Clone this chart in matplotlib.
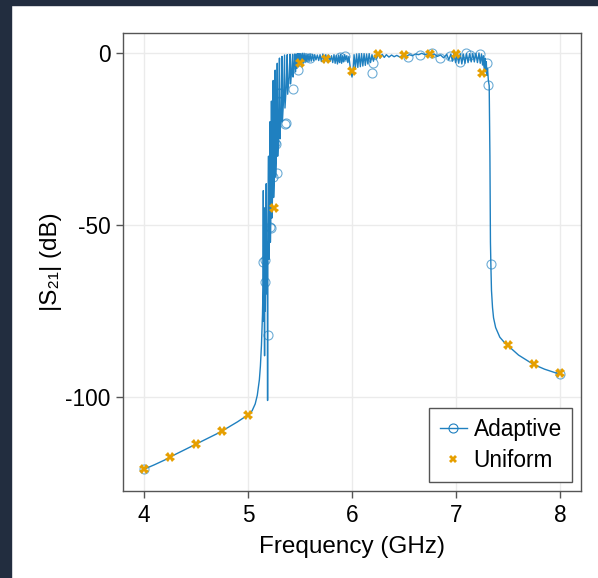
import matplotlib
matplotlib.use("Agg")
import matplotlib.pyplot as plt
from matplotlib.lines import Line2D
from matplotlib.patches import Rectangle

plt.rcParams['font.family'] = ['Liberation Sans', 'DejaVu Sans']
plt.rcParams['axes.unicode_minus'] = False

# ---- data ----
# dense evaluated response (adaptive model), segments
tail_low_f = [4.0, 4.1, 4.2, 4.3, 4.4, 4.5, 4.6, 4.7, 4.8, 4.9, 5.0, 5.04, 5.07, 5.09, 5.11, 5.12, 5.13, 5.14, 5.145]
tail_low_db = [-121.0, -119.7, -118.3, -116.7, -115.2, -113.7, -112.2, -110.7, -109.0, -107.2, -105.2, -104.0, -102.0, -99.5, -95.0, -91.0, -85.0, -76.0, -68.0]

edge_f = [5.148, 5.151, 5.156, 5.160, 5.163, 5.167, 5.172, 5.176, 5.180, 5.186,
          5.189, 5.192, 5.198, 5.202, 5.208, 5.212, 5.216, 5.222, 5.226, 5.230,
          5.238, 5.243, 5.247, 5.256, 5.262, 5.266, 5.275, 5.282, 5.286, 5.295,
          5.303, 5.307, 5.318, 5.327, 5.331, 5.342, 5.352, 5.356, 5.368, 5.378,
          5.382, 5.395, 5.405, 5.409, 5.420, 5.430, 5.434, 5.444, 5.450]
edge_db = [-40, -78, -62, -88, -45, -75, -60, -38, -70, -55,
           -101, -50, -30, -60, -50, -20, -55, -45, -14, -48,
           -40, -8, -42, -34, -5, -36, -28, -3, -30, -23,
           -1.5, -25, -18, -1, -20, -14, -0.6, -16, -10, -0.5,
           -12, -7, -0.4, -9, -5, -0.4, -7, -3.5, -0.3]

pass_f = [5.458, 5.464, 5.471, 5.478, 5.485, 5.492, 5.499, 5.507, 5.515, 5.523, 5.531, 5.540, 5.549,
          5.558, 5.567, 5.577, 5.587, 5.597, 5.608, 5.619, 5.630, 5.642, 5.654, 5.667, 5.680, 5.693,
          5.706, 5.720, 5.734, 5.748, 5.762, 5.776, 5.790, 5.803, 5.815, 5.827, 5.838, 5.849, 5.860,
          5.870, 5.880, 5.890, 5.900, 5.910, 5.920, 5.930, 5.940, 5.950, 5.960, 5.970, 5.980, 5.990,
          6.000, 6.010, 6.020, 6.032, 6.044, 6.056, 6.068, 6.080, 6.092, 6.104, 6.116, 6.128, 6.140,
          6.152, 6.165, 6.178, 6.192, 6.206, 6.220, 6.236, 6.252, 6.270, 6.290, 6.310, 6.330, 6.355,
          6.380, 6.405, 6.430, 6.460, 6.490, 6.520, 6.550, 6.580, 6.610, 6.640, 6.670, 6.700, 6.730,
          6.760, 6.790, 6.820, 6.850, 6.880, 6.910, 6.930, 6.950, 6.965, 6.980, 6.995, 7.010, 7.025,
          7.040, 7.055, 7.070, 7.085, 7.100, 7.115, 7.130, 7.145, 7.160, 7.175, 7.190, 7.205, 7.220,
          7.232, 7.244, 7.254, 7.262, 7.270, 7.277, 7.284, 7.290, 7.296, 7.302, 7.310, 7.318]
pass_db = [-5.5, -0.3, -4.5, -0.2, -4.0, -0.2, -3.5, -0.2, -3.2, -0.1, -3.0, -0.1, -2.8,
           -0.2, -2.6, -0.3, -2.5, -0.3, -2.4, -0.4, -2.2, -0.5, -2.0, -0.6, -2.2, -0.5,
           -2.5, -0.3, -2.8, -0.5, -2.6, -0.6, -2.4, -0.8, -2.8, -0.5, -3.0, -0.7, -3.2,
           -0.6, -2.8, -0.4, -3.0, -0.8, -2.6, -0.5, -2.0, -0.8, -2.8, -1.0, -3.5,
           -5.5, -7.0, -5.0, -0.5, -4.5, -0.3, -4.2, -0.2, -4.0, -0.2, -3.8, -0.2, -3.6,
           -0.3, -3.2, -0.2, -2.8, -0.5, -2.4, -0.6, -1.8, -0.2, -1.5, -0.4, -1.3, -0.5,
           -1.2, -0.6, -1.1, -0.7, -1.2, -0.6, -1.0, -0.5, -0.8, -0.3, -0.5, -0.1, -0.5,
           -0.2, -0.6, -0.3, -1.0, -0.6, -1.4, -0.4, -2.0, -0.3, -2.4, -0.2, -2.8, -0.3,
           -3.0, -0.2, -3.2, -0.3, -3.0, -0.2, -2.8, -0.2, -2.6, -0.1, -2.6, -0.1, -2.8,
           0.0, -3.0, -0.3, -3.5, -0.8, -4.5, -1.5, -5.5, -2.5, -6.5, -4.5, -8.0, -9.5]

tail_high_f = [7.325, 7.330, 7.334, 7.340, 7.350, 7.360, 7.380, 7.420, 7.460, 7.500, 7.600, 7.700, 7.750, 7.850, 7.950, 8.000]
tail_high_db = [-30.0, -55.0, -61.3, -69.0, -74.0, -77.0, -79.8, -82.6, -84.0, -85.1, -87.8, -89.7, -90.6, -91.9, -92.9, -93.3]

# adaptive sample points
adaptive_f = [4.0, 5.147, 5.163, 5.163, 5.196, 5.21, 5.22, 5.24, 5.26, 5.27, 5.28, 5.29, 5.31, 5.36, 5.37,
              5.43, 5.48, 5.6, 5.885, 5.93, 6.19, 6.2, 6.54, 6.65, 6.77, 6.85, 6.94, 7.04, 7.10, 7.13,
              7.23, 7.30, 7.31, 7.334, 8.0]
adaptive_db = [-121.0, -60.7, -60.2, -66.5, -82.0, -50.7, -50.8, -36.0, -26.2, -26.5, -34.8, -11.7, -11.7, -20.6, -20.4,
               -10.5, -4.9, -1.5, -1.1, -1.0, -5.9, -2.9, -1.3, -0.6, 0.0, -1.5, -1.0, -2.5, -0.1, -0.6,
               -0.3, -3.0, -9.3, -61.3, -93.3]

# uniform sample points
uniform_f = [4.0, 4.25, 4.5, 4.75, 5.0, 5.25, 5.5, 5.75, 6.0, 6.25, 6.5, 6.75, 7.0, 7.25, 7.5, 7.75, 8.0]
uniform_db = [-120.9, -117.4, -113.7, -109.9, -105.2, -45.0, -2.9, -1.7, -5.2, -0.3, -0.6, -0.3, -0.3, -5.8, -85.0, -90.4, -93.0]

xticks = [4, 5, 6, 7, 8]
yticks = [0, -50, -100]

# ---- plot ----
W, H = 598, 578
fig = plt.figure(figsize=(W / 100, H / 100), dpi=100)
fig.patch.set_facecolor('white')
dark = '#222d3f'
fig.patches.append(Rectangle((0, 0), 11 / W, 1, transform=fig.transFigure, color=dark, zorder=0))
fig.patches.append(Rectangle((0, 1 - 5 / H), 1, 5 / H, transform=fig.transFigure, color=dark, zorder=0))

ax = fig.add_axes([123 / W, 1 - 491 / H, (581 - 123) / W, (491 - 33) / H])

blue = '#1f80c0'
orange = '#E69F00'

line_f = tail_low_f + edge_f + pass_f + tail_high_f
line_db = tail_low_db + edge_db + pass_db + tail_high_db
ax.plot(line_f, line_db, color=blue, lw=1.0, zorder=3)
ax.plot(adaptive_f, adaptive_db, linestyle='none', marker='o', markersize=6.5,
        markerfacecolor='none', markeredgecolor=blue, markeredgewidth=0.8, alpha=0.65, zorder=4)
ax.plot(uniform_f, uniform_db, linestyle='none', marker='X', markersize=6.5,
        color=orange, markeredgewidth=0, zorder=5)

ax.set_xlim(3.8, 8.2)
ax.set_ylim(-127.3, 5.8)
ax.set_xticks(xticks)
ax.set_yticks(yticks)
ax.set_xticklabels([str(t) for t in xticks])
ax.set_yticklabels([str(t) for t in yticks])
ax.grid(True, color='#ebebeb', lw=1.0, zorder=0)
ax.set_axisbelow(True)
for s in ax.spines.values():
    s.set_color('#555555')
    s.set_linewidth(1.0)
ax.tick_params(direction='out', length=5, width=1, color='#555555', labelsize=16.3, pad=4)
ax.set_xlabel('Frequency (GHz)', fontsize=17.5, labelpad=7)
ax.set_ylabel('|S₂₁| (dB)', fontsize=17.5, labelpad=2)

handles = [
    Line2D([], [], color=blue, lw=1.0, marker='o', markersize=6.5, markerfacecolor='none',
           markeredgecolor=blue, markeredgewidth=0.8),
    Line2D([], [], linestyle='none', marker='X', markersize=6, color=orange, markeredgewidth=0),
]
leg = ax.legend(handles, ['Adaptive', 'Uniform'], loc='lower right', fontsize=16.3,
                frameon=True, fancybox=False, edgecolor='#555555', framealpha=1,
                handlelength=1.2, handletextpad=0.3, borderpad=0.45, labelspacing=0.35,
                borderaxespad=0, bbox_to_anchor=(1 - 9 / 458, 9 / 458))
leg.get_frame().set_linewidth(1.0)

fig.savefig('out.png', dpi=100, facecolor=fig.get_facecolor())
